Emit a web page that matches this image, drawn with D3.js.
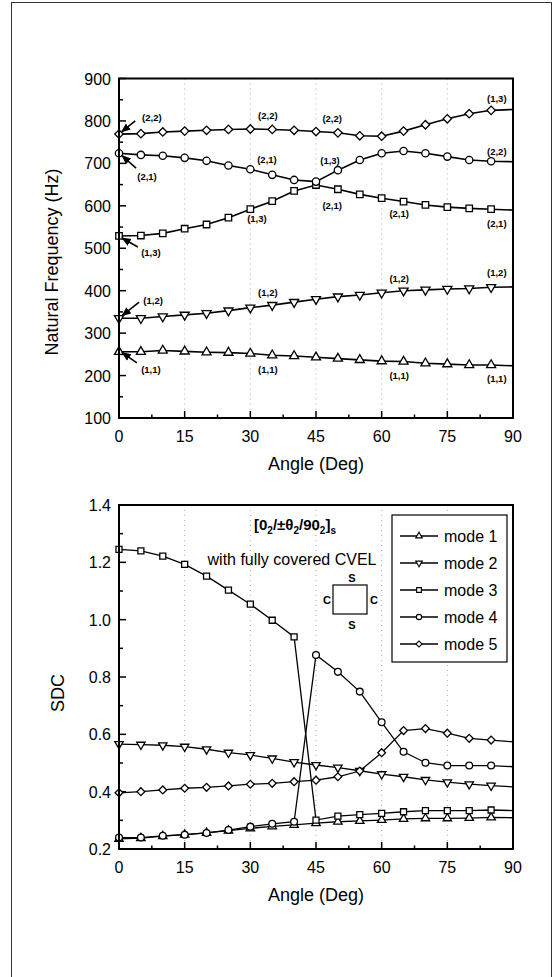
<!DOCTYPE html>
<html>
<head>
<meta charset="utf-8">
<script src="https://cdn.jsdelivr.net/npm/d3@7"></script>
<style>
  body { margin: 0; background: white; }
  text { font-family: "Liberation Sans", Arial, sans-serif; }
</style>
</head>
<body>
<div id="container"></div>
<script>
let w = 558;
let h = 977;

// DATA
let angles = [0, 5, 10, 15, 20, 25, 30, 35, 40, 45, 50, 55, 60, 65, 70, 75, 80, 85, 90];
let angleTicks = [0, 15, 30, 45, 60, 75, 90];

// natural frequency (Hz), modes sorted by frequency
let freqMode1 = [256, 256, 259, 257, 255, 254, 252, 248, 246, 243, 240, 237, 234, 233, 229, 227, 225, 225, 223];
let freqMode2 = [335, 335, 339, 343, 347, 353, 360, 366, 373, 380, 386, 390, 395, 400, 402, 404, 405, 408, 409];
let freqMode3 = [529, 530, 535, 546, 556, 572, 592, 611, 635, 649, 639, 627, 618, 610, 602, 597, 594, 592, 590];
let freqMode4 = [724, 720, 718, 713, 706, 695, 686, 673, 661, 657, 684, 708, 724, 729, 724, 716, 708, 705, 704];
let freqMode5 = [769, 770, 774, 776, 778, 780, 781, 780, 778, 775, 772, 765, 764, 776, 791, 805, 817, 825, 827];
let freqTicks = [100, 200, 300, 400, 500, 600, 700, 800, 900];

// SDC
let sdcMode1 = [0.235, 0.238, 0.245, 0.250, 0.256, 0.264, 0.272, 0.279, 0.284, 0.290, 0.295, 0.298, 0.301, 0.305, 0.307, 0.307, 0.308, 0.310, 0.309];
let sdcMode2 = [0.566, 0.564, 0.562, 0.557, 0.548, 0.536, 0.528, 0.516, 0.503, 0.493, 0.484, 0.473, 0.461, 0.452, 0.441, 0.433, 0.426, 0.421, 0.417];
let sdcMode3 = [1.245, 1.240, 1.222, 1.193, 1.152, 1.103, 1.054, 0.998, 0.940, 0.301, 0.315, 0.320, 0.324, 0.330, 0.334, 0.334, 0.334, 0.336, 0.334];
let sdcMode4 = [0.240, 0.240, 0.246, 0.250, 0.256, 0.266, 0.278, 0.288, 0.295, 0.877, 0.818, 0.749, 0.642, 0.539, 0.501, 0.491, 0.491, 0.491, 0.487];
let sdcMode5 = [0.396, 0.400, 0.406, 0.412, 0.415, 0.420, 0.426, 0.429, 0.435, 0.440, 0.452, 0.472, 0.536, 0.613, 0.620, 0.604, 0.586, 0.580, 0.574];
let sdcTicks = [0.2, 0.4, 0.6, 0.8, 1.0, 1.2, 1.4];

let modeNames = ["mode 1", "mode 2", "mode 3", "mode 4", "mode 5"];
let modeShapes = ["triUp", "triDown", "square", "circle", "diamond"];

// mode labels on the frequency plot: [text, angle, freq, arrow from angle, arrow from freq, arrow to angle, arrow to freq]
let freqLabels = [
  ["(2,2)", 7.5, 807, 3.7, 800, 0.6, 774],
  ["(2,1)", 6.4, 668, 3.9, 689, 0.7, 718],
  ["(1,3)", 7.3, 489, 4.3, 503, 0.7, 524],
  ["(1,2)", 7.8, 378, 4.6, 373, 0.7, 341],
  ["(1,1)", 7.3, 215, 4.1, 230, 0.7, 254],
  ["(2,2)", 34, 812], ["(2,1)", 33.8, 708], ["(1,3)", 31.5, 571],
  ["(2,2)", 48.7, 805], ["(1,3)", 48.2, 706], ["(2,1)", 48.7, 600],
  ["(2,1)", 64, 581],
  ["(1,3)", 86.3, 852], ["(2,2)", 86.3, 729], ["(2,1)", 86.3, 559],
  ["(1,2)", 34, 395], ["(1,2)", 64, 428], ["(1,2)", 86.3, 442],
  ["(1,1)", 34, 215], ["(1,1)", 64, 199], ["(1,1)", 86.3, 194]
];

// SVG
let viz = d3.select("#container").append("svg")
    .attr("width", w)
    .attr("height", h)
    .style("display", "block")
    .style("background-color", "white");

// page frame
viz.append("rect")
    .attr("x", 11.5).attr("y", 2.5)
    .attr("width", 540).attr("height", 1000)
    .attr("fill", "none").attr("stroke", "#333").attr("stroke-width", 1);

viz.append("defs").append("marker")
    .attr("id", "head")
    .attr("viewBox", "0 0 10 10")
    .attr("refX", 9).attr("refY", 5)
    .attr("markerWidth", 6).attr("markerHeight", 6)
    .attr("orient", "auto")
  .append("path")
    .attr("d", "M0,1 L10,5 L0,9 Z")
    .attr("fill", "black");

function markerPath(shape, size) {
  if (shape == "circle") return d3.symbol().type(d3.symbolCircle).size(size)();
  if (shape == "square") return d3.symbol().type(d3.symbolSquare).size(size)();
  if (shape == "diamond") return d3.symbol().type(d3.symbolSquare).size(size * 0.85)();
  return d3.symbol().type(d3.symbolTriangle).size(size * 0.85)();
}
function markerRotate(shape) {
  if (shape == "diamond") return 45;
  if (shape == "triDown") return 180;
  return 0;
}

let xLeft = 119, xRight = 513;

function drawPanel(opts) {
  let x = d3.scaleLinear().domain([0, 90]).range([xLeft, xRight]);
  let y = d3.scaleLinear().domain(opts.yDomain).range([opts.yBottom, opts.yTop]);
  let g = viz.append("g");

  // dotted grid
  g.selectAll(".grid").data(angleTicks.slice(1, -1)).enter()
    .append("line")
      .attr("x1", d => x(d)).attr("x2", d => x(d))
      .attr("y1", y.range()[1]).attr("y2", y.range()[0])
      .attr("stroke", "#aaa").attr("stroke-width", 1)
      .attr("stroke-dasharray", "1,4");

  // ticks, pointing inward
  let xMinor = d3.range(7.5, 90, 15);
  g.selectAll(".xt").data(angleTicks).enter().append("line")
      .attr("x1", d => x(d)).attr("x2", d => x(d))
      .attr("y1", opts.yBottom).attr("y2", opts.yBottom - 7)
      .attr("stroke", "black").attr("stroke-width", 1.5);
  g.selectAll(".xm").data(xMinor).enter().append("line")
      .attr("x1", d => x(d)).attr("x2", d => x(d))
      .attr("y1", opts.yBottom).attr("y2", opts.yBottom - 3.5)
      .attr("stroke", "black").attr("stroke-width", 1.5);
  g.selectAll(".yt").data(opts.yTicks).enter().append("line")
      .attr("x1", xLeft).attr("x2", xLeft + 7)
      .attr("y1", d => y(d)).attr("y2", d => y(d))
      .attr("stroke", "black").attr("stroke-width", 1.5);
  g.selectAll(".ym").data(opts.yMinor).enter().append("line")
      .attr("x1", xLeft).attr("x2", xLeft + 4)
      .attr("y1", d => y(d)).attr("y2", d => y(d))
      .attr("stroke", "black").attr("stroke-width", 1.5);

  // tick labels
  g.selectAll(".xl").data(angleTicks).enter().append("text")
      .attr("x", d => x(d)).attr("y", opts.yBottom + 24)
      .attr("text-anchor", "middle").attr("font-size", 16)
      .text(d => d);
  g.selectAll(".yl").data(opts.yTicks).enter().append("text")
      .attr("x", xLeft - 8).attr("y", d => y(d) + 6)
      .attr("text-anchor", "end").attr("font-size", 16)
      .text(opts.yFormat);

  // axis titles
  g.append("text")
      .attr("x", (xLeft + xRight) / 2 + 0).attr("y", opts.yBottom + 52)
      .attr("text-anchor", "middle").attr("font-size", 18)
      .text("Angle (Deg)");
  g.append("text")
      .attr("transform", "translate(" + opts.titleX + "," + opts.titleY + ") rotate(-90)")
      .attr("text-anchor", "middle").attr("font-size", 18)
      .text(opts.yTitle);

  // series
  let line = d3.line().x((d, i) => x(angles[i])).y(d => y(d));
  opts.series.forEach(function(values, k) {
    g.append("path")
        .attr("d", line(values))
        .attr("fill", "none").attr("stroke", "black")
        .attr("stroke-width", opts.lineWidth);
  });
  opts.series.forEach(function(values, k) {
    let shape = modeShapes[k];
    g.selectAll(".m" + k).data(values.slice(0, -1)).enter()
      .append("path")
        .attr("d", markerPath(shape, opts.markerSize))
        .attr("transform", (d, i) => "translate(" + x(angles[i]) + "," + y(d) + ") rotate(" + markerRotate(shape) + ")")
        .attr("fill", "white").attr("stroke", "black").attr("stroke-width", 1.3);
  });

  // frame
  g.append("rect")
      .attr("x", xLeft).attr("y", opts.yTop)
      .attr("width", xRight - xLeft).attr("height", opts.yBottom - opts.yTop)
      .attr("fill", "none").attr("stroke", "black").attr("stroke-width", 2);

  return {x: x, y: y, g: g};
}

// TOP PANEL: natural frequency
let freqPanel = drawPanel({
  yDomain: [100, 900], yTop: 78.5, yBottom: 418,
  yTicks: freqTicks, yMinor: d3.range(150, 900, 100),
  yFormat: d => d,
  yTitle: "Natural Frequency (Hz)", titleX: 58, titleY: 262,
  series: [freqMode1, freqMode2, freqMode3, freqMode4, freqMode5],
  lineWidth: 1.6, markerSize: 42
});

freqPanel.g.selectAll(".lab").data(freqLabels).enter().append("text")
    .attr("x", d => freqPanel.x(d[1])).attr("y", d => freqPanel.y(d[2]) + 3.5)
    .attr("text-anchor", "middle")
    .attr("font-size", 9.5).attr("font-weight", "bold")
    .text(d => d[0]);
freqPanel.g.selectAll(".arrow").data(freqLabels.filter(d => d.length > 3)).enter().append("line")
    .attr("x1", d => freqPanel.x(d[3])).attr("y1", d => freqPanel.y(d[4]))
    .attr("x2", d => freqPanel.x(d[5])).attr("y2", d => freqPanel.y(d[6]))
    .attr("stroke", "black").attr("stroke-width", 1.6)
    .attr("marker-end", "url(#head)");

// BOTTOM PANEL: SDC
let sdcPanel = drawPanel({
  yDomain: [0.2, 1.4], yTop: 505, yBottom: 849,
  yTicks: sdcTicks, yMinor: d3.range(0.3, 1.4, 0.2),
  yFormat: d => d3.format(".1f")(d),
  yTitle: "SDC", titleX: 64, titleY: 693,
  series: [sdcMode1, sdcMode2, sdcMode3, sdcMode4, sdcMode5],
  lineWidth: 1.3, markerSize: 36
});

// laminate annotation, subscripts shifted down then back up
let ann = sdcPanel.g.append("text")
    .attr("x", 295).attr("y", 530)
    .attr("text-anchor", "middle")
    .attr("font-size", 15).attr("font-weight", "bold");
let shift = 0;
[["[0", 0], ["2", 1], ["/±θ", 0], ["2", 1], ["/90", 0], ["2", 1], ["]", 0], ["s", 1]].forEach(function(p) {
  let target = p[1] ? 4 : 0;
  ann.append("tspan")
      .attr("font-size", p[1] ? 10 : 15)
      .attr("dy", target - shift)
      .text(p[0]);
  shift = target;
});
sdcPanel.g.append("text")
    .attr("x", 292).attr("y", 565)
    .attr("text-anchor", "middle").attr("font-size", 16)
    .text("with fully covered CVEL");

// boundary condition sketch
sdcPanel.g.append("rect")
    .attr("x", 333).attr("y", 585).attr("width", 34).attr("height", 29)
    .attr("fill", "white").attr("stroke", "black").attr("stroke-width", 1.2);
[["S", 352, 582, "middle"], ["S", 352, 629, "middle"], ["C", 331, 604, "end"], ["C", 370, 604, "start"]].forEach(function(d) {
  sdcPanel.g.append("text")
      .attr("x", d[1]).attr("y", d[2])
      .attr("text-anchor", d[3])
      .attr("font-size", 11).attr("font-weight", "bold")
      .text(d[0]);
});

// legend
let legend = sdcPanel.g.append("g");
legend.append("rect")
    .attr("x", 392).attr("y", 515).attr("width", 115).attr("height", 147)
    .attr("fill", "white").attr("stroke", "black").attr("stroke-width", 1.2);
let rows = legend.selectAll(".row").data(modeNames).enter().append("g")
    .attr("transform", (d, i) => "translate(0," + (536 + i * 27) + ")");
rows.append("line")
    .attr("x1", 400).attr("x2", 438).attr("y1", 0).attr("y2", 0)
    .attr("stroke", "black").attr("stroke-width", 1.3);
rows.append("path")
    .attr("d", (d, i) => markerPath(modeShapes[i], 22))
    .attr("transform", (d, i) => "translate(419,0) rotate(" + markerRotate(modeShapes[i]) + ")")
    .attr("fill", "white").attr("stroke", "black").attr("stroke-width", 1.1);
rows.append("text")
    .attr("x", 444).attr("y", 6)
    .attr("font-size", 16)
    .text(d => d);
</script>
</body>
</html>
